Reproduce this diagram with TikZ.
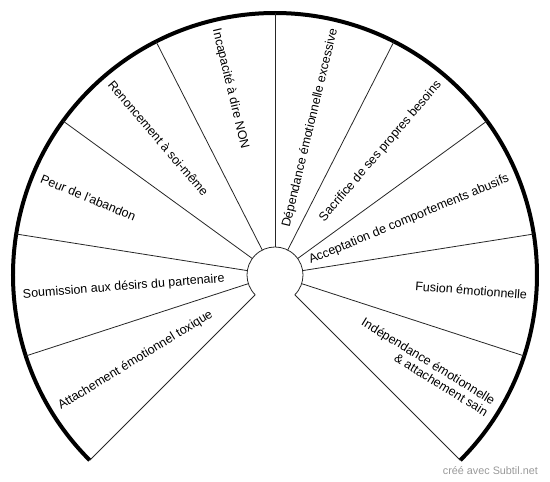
\documentclass[tikz,border=0pt]{standalone}
\usepackage{fontspec}
\setmainfont{Liberation Sans}
\usepackage{tikz}
\usetikzlibrary{positioning}

\tikzset{
  rlabel/.style={anchor=east, inner sep=0pt, font=\fontsize{12.5}{13.5}\selectfont},
  llabel/.style={anchor=west, inner sep=0pt, font=\fontsize{12.5}{13.5}\selectfont},
  spoke/.style={line width=0.8pt, black!85},
}

\begin{document}
\begin{tikzpicture}[x=1pt,y=1pt]
            \useasboundingbox (-275,-207) rectangle (275,275);
            \coordinate (hub) at (0,0);

            % Draw the rim and the hub
            \draw[line width=4pt] (-45:262) arc[start angle=-45, end angle=225, radius=262];
            \draw[spoke] (-45:28) arc[start angle=-45, end angle=225, radius=28];

            % Draw the spokes
            \draw[spoke] (-45:28) -- (-45:262);
            \draw[spoke] (-18:28) -- (-18:262);
            \draw[spoke] (9:28) -- (9:262);
            \draw[spoke] (36:28) -- (36:262);
            \draw[spoke] (63:28) -- (63:262);
            \draw[spoke] (90:28) -- (90:262);
            \draw[spoke] (117:28) -- (117:262);
            \draw[spoke] (144:28) -- (144:262);
            \draw[spoke] (171:28) -- (171:262);
            \draw[spoke] (198:28) -- (198:262);
            \draw[spoke] (225:28) -- (225:262);

            % Right half
            \node[rlabel, rotate=76.5] (dependance) at (76.5:253) {Dépendance émotionnelle excessive};
            \node[rlabel, rotate=49.5] (sacrifice) at (49.5:253) {Sacrifice de ses propres besoins};
            \node[rlabel, rotate=22.5] (acceptation) at (22.5:253) {Acceptation de comportements abusifs};
            \node[rlabel, rotate=-4.5] (fusion) at (-4.5:253) {Fusion émotionnelle};
            \node[rlabel, rotate=-31.5, align=right] (independance) at (-31.5:253) {Indépendance émotionnelle\\ \& attachement sain};

            % Left half
            \node[llabel, rotate=-76.5] (incapacite) at (103.5:253) {Incapacité à dire NON};
            \node[llabel, rotate=-49.5] (renoncement) at (130.5:253) {Renoncement à soi-même};
            \node[llabel, rotate=-22.5] (peur) at (157.5:253) {Peur de l'abandon};
            \node[llabel, rotate=4.5] (soumission) at (184.5:253) {Soumission aux désirs du partenaire};
            \node[llabel, rotate=31.5] (attachement) at (211.5:253) {Attachement émotionnel toxique};

            \node[anchor=east, inner sep=0pt, text=black!40, font=\fontsize{10.8}{12}\selectfont] (credit) at (263,-196) {créé avec Subtil.net};
        \end{tikzpicture}
\end{document}
